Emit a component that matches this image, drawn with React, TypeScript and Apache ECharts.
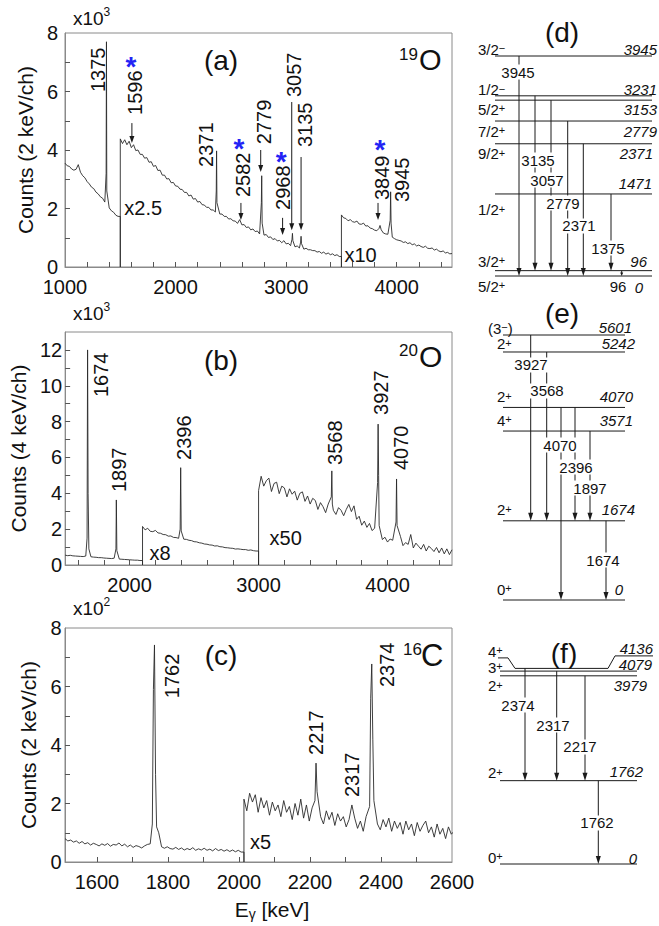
import React, { useEffect, useRef } from 'react';
import * as echarts from 'echarts';

const FONT = '"Liberation Sans", Arial, Helvetica, sans-serif';

// ---------------- (a) 19O spectrum, counts in units of 10^3 ----------------
const a1Counts = [3.55, 3.46, 3.44, 3.35, 3.31, 3.34, 3.50, 3.24, 3.12, 3.05, 2.92, 2.84, 2.73, 2.68, 2.56, 2.50, 2.40, 2.35, 2.22, 2.08, 2.02, 1.92, 1.87, 1.77, 1.73];
const a2Counts = [
  4.38, 4.22, 4.35, 4.18, 4.30, 4.08, 4.18, 3.98, 4.00, 3.85,
  3.85, 3.72, 3.74, 3.58, 3.60, 3.44, 3.47, 3.30, 3.31, 3.14,
  3.14, 3.01, 3.02, 2.88, 2.89, 2.77, 2.76, 2.66, 2.65, 2.55,
  2.55, 2.43, 2.46, 2.32, 2.34, 2.22, 2.24, 2.13, 2.12, 2.04,
  2.04, 1.95, 1.95, 1.88, 1.88, 1.81, 1.81, 1.73, 1.73, 1.64,
  1.65, 1.58, 1.57, 1.49, 1.62, 1.44, 1.45, 1.35, 1.37, 1.27,
  1.30, 1.21, 1.23, 1.13, 1.16, 1.09, 1.11, 1.01, 1.03, 0.94,
  0.97, 0.89, 0.91, 0.83, 0.90, 0.79, 0.81, 0.73, 0.78, 0.69,
  0.72, 0.65, 0.69, 0.61, 0.64, 0.59, 0.59, 0.56, 0.56, 0.51,
  0.53, 0.47, 0.51, 0.44, 0.48, 0.42, 0.45, 0.39, 0.42, 0.36,
];
const a3Counts = [
  1.78, 1.68, 1.66, 1.58, 1.62, 1.55, 1.53, 1.57, 1.47, 1.46,
  1.50, 1.40, 1.41, 1.33, 1.31, 1.26, 1.24, 1.32, 1.27, 1.16,
  1.13, 1.12, 1.22, 1.02, 0.97, 0.93, 0.91, 0.89, 0.84, 0.86,
  0.80, 0.83, 0.76, 0.79, 0.72, 0.75, 0.70, 0.67, 0.71, 0.64,
  0.63, 0.65, 0.58, 0.61, 0.55, 0.52, 0.55, 0.48, 0.50, 0.45, 0.46,
];
const segA = [
  { start: 1000, step: 20, counts: a1Counts },
  { start: 1500, step: 20, counts: a2Counts },
  { start: 3500, step: 20, counts: a3Counts },
];
const peaksA = [
  [1372, 3.2], [1375, 7.7], [1378, 2.6],
  [2368, 2.6], [2371, 3.97], [2374, 2.2],
  [2776, 2.2], [2779, 3.12], [2783, 1.5],
  [3053, 0.95], [3057, 1.15], [3061, 0.9],
  [3131, 0.85], [3135, 1.05], [3139, 0.8],
  [3849, 1.42],
  [3941, 1.6], [3945, 2.57], [3949, 1.5],
];

// ---------------- (b) 20O spectrum, units of 10^3 ----------------
const b1Counts = [0.55, 0.52, 0.54, 0.51, 0.50, 0.49, 0.48, 0.47, 0.50, 0.62, 0.46, 0.44, 0.43, 0.41, 0.41, 0.39, 0.38, 0.37, 0.36, 0.38, 0.40, 0.33, 0.32, 0.31, 0.30, 0.29, 0.28, 0.27, 0.27, 0.25];
const b2Counts = [
  2.15, 1.96, 2.05, 1.88, 1.86, 1.93, 1.79, 1.77, 1.70, 1.69,
  1.61, 1.62, 1.54, 1.53, 1.49, 1.50, 1.44, 1.43, 1.38, 1.36,
  1.30, 1.29, 1.24, 1.22, 1.17, 1.16, 1.12, 1.11, 1.06, 1.07,
  1.02, 1.01, 0.97, 0.96, 0.94, 0.93, 0.89, 0.90, 0.88, 0.86,
  0.86, 0.82, 0.84, 0.80, 0.78,
];
const b3Counts = [
  4.15, 4.95, 4.40, 4.70, 4.85, 4.10, 4.55, 4.62, 3.98, 4.40,
  4.30, 3.80, 4.25, 3.95, 4.12, 3.62, 4.00, 4.08, 3.55, 3.85,
  3.40, 3.72, 3.60, 3.10, 3.48, 3.25, 2.92, 3.40, 3.70, 3.05,
  2.82, 3.20, 3.05, 2.75, 3.10, 3.38, 2.98, 3.30, 2.55, 2.72,
  2.22, 2.45, 2.10, 2.32, 1.92, 2.05, 2.25, 1.58, 1.42, 1.55,
  1.28, 1.45, 1.38, 1.18, 1.35, 1.60, 1.08, 1.25, 1.15, 1.70,
  0.95, 1.22, 1.05, 0.88, 1.15, 0.78, 1.05, 0.92, 0.75, 0.98,
  0.68, 0.95, 0.62, 0.90, 0.58, 0.85,
];
const segB = [
  { start: 1500, step: 20, counts: b1Counts },
  { start: 2100, step: 20, counts: b2Counts },
  { start: 3000, step: 20, counts: b3Counts },
];
const peaksB = [
  [1670, 1.5], [1674, 12.0], [1678, 4.0], [1684, 0.9],
  [1894, 0.9], [1897, 3.63], [1901, 0.8],
  [2392, 2.0], [2396, 5.43], [2400, 1.9],
  [3564, 3.8], [3568, 5.25], [3572, 3.4],
  [3923, 4.6], [3927, 7.86], [3931, 5.0], [3935, 2.2],
  [4066, 2.4], [4070, 4.8], [4074, 2.2],
];

// ---------------- (c) 16C spectrum, units of 10^2 ----------------
const c1Counts = [
  0.80, 0.72, 0.75, 0.68, 0.72, 0.64, 0.70, 0.62, 0.66, 0.58,
  0.64, 0.60, 0.55, 0.62, 0.57, 0.63, 0.54, 0.60, 0.58, 0.65,
  0.55, 0.61, 0.52, 0.58, 0.50, 0.56, 0.53, 0.48, 0.55, 0.60,
  0.62, 0.80, 1.10, 1.00, 0.52, 0.47, 0.52, 0.46, 0.44, 0.50,
  0.43, 0.48, 0.41, 0.46, 0.42, 0.49, 0.40, 0.45, 0.41, 0.47,
  0.40, 0.44, 0.38, 0.46, 0.39, 0.43, 0.37, 0.42, 0.36, 0.41,
  0.35, 0.40, 0.34,
];
const c2Counts = [
  2.15, 1.75, 2.35, 2.05, 2.30, 1.70, 2.20, 1.85, 2.10, 1.60,
  2.05, 1.75, 1.95, 1.55, 2.10, 1.70, 1.90, 1.45, 2.00, 1.60,
  2.15, 1.50, 1.95, 1.40, 1.85, 2.00, 2.10, 1.55, 1.30, 1.75,
  1.45, 1.70, 1.25, 1.65, 1.40, 1.55, 1.20, 1.45, 1.95, 1.50,
  1.15, 1.40, 1.05, 1.55, 1.80, 1.90, 1.75, 1.30, 1.10, 1.45,
  1.20, 1.50, 1.05, 1.40, 1.15, 1.35, 0.95, 1.40, 1.10, 1.30,
  0.90, 1.35, 1.05, 1.25, 1.40, 1.00, 1.20, 0.85, 1.30, 0.95,
  1.15, 0.80, 1.20, 0.95, 1.05,
];
const segC = [
  { start: 1510, step: 8, counts: c1Counts },
  { start: 2014, step: 8, counts: c2Counts },
];
const peaksC = [
  [1756, 1.3], [1759, 5.9], [1762, 7.42], [1765, 3.0], [1768, 1.2],
  [2214, 2.1], [2217, 3.38], [2220, 2.4],
  [2368, 1.9], [2371, 5.6], [2374, 6.77], [2377, 4.2], [2380, 2.1],
];

// ---------------- axis ticks / labels ----------------
const aTicksX = [1200, 1400, 1600, 1800, 2000, 2200, 2400, 2600, 2800, 3000, 3200, 3400, 3600, 3800, 4000, 4200, 4400];
const aLabelsX = [1000, 2000, 3000, 4000];
const bTicksX = [1600, 1800, 2000, 2200, 2400, 2600, 2800, 3000, 3200, 3400, 3600, 3800, 4000, 4200, 4400];
const bLabelsX = [2000, 3000, 4000];
const cTicksX = [1600, 1700, 1800, 1900, 2000, 2100, 2200, 2300, 2400, 2500];
const cLabelsX = [1600, 1800, 2000, 2200, 2400, 2600];
const aTicksY = [1, 2, 3, 4, 5, 6, 7];
const aLabelsY = [0, 2, 4, 6, 8];
const bTicksY = [1, 2, 3, 4, 5, 6, 7, 8, 9, 10, 11, 12];
const bLabelsY = [0, 2, 4, 6, 8, 10, 12];
const cTicksY = [1, 2, 3, 4, 5, 6, 7];
const cLabelsY = [0, 2, 4, 6, 8];

// ---------------- peak annotations ----------------
// e: peak energy, yb: label start (counts), star: asterisk height, arrow: [top, tip] in counts
const annotA = [
  { e: 1375, text: '1375', dx: -8.5, yb: 5.98 },
  { e: 1596, text: '1596', dx: 4, yb: 5.2, star: 7.08, sdx: 0, arrow: [4.92, 4.24], adx: 1 },
  { e: 2371, text: '2371', dx: -11, yb: 3.42 },
  { e: 2582, text: '2582', dx: 3, yb: 2.39, star: 4.27, sdx: -1, arrow: [2.19, 1.61], adx: 1 },
  { e: 2779, text: '2779', dx: 2, yb: 4.2, arrow: [4.0, 3.25], adx: -1 },
  { e: 2968, text: '2968', dx: 0, yb: 1.95, star: 3.83, sdx: -1.5, arrow: [1.68, 1.09], adx: 0 },
  { e: 3057, text: '3057', dx: 2, yb: 5.81, arrow: [5.64, 1.26], adx: -0.7 },
  { e: 3135, text: '3135', dx: 4, yb: 4.1, arrow: [3.76, 1.26], adx: 0 },
  { e: 3849, text: '3849', dx: 2, yb: 2.29, star: 4.24, sdx: 0, arrow: [2.19, 1.61], adx: -2 },
  { e: 3945, text: '3945', dx: 11, yb: 2.22 },
];
const annotB = [
  { e: 1674, text: '1674', dx: 13, yb: 9.37 },
  { e: 1897, text: '1897', dx: 3, yb: 4.07 },
  { e: 2396, text: '2396', dx: 3, yb: 5.86 },
  { e: 3568, text: '3568', dx: 3, yb: 5.58 },
  { e: 3927, text: '3927', dx: 3, yb: 8.37 },
  { e: 4070, text: '4070', dx: 4, yb: 5.3 },
];
const annotC = [
  { e: 1762, text: '1762', dx: 18, yb: 5.6 },
  { e: 2217, text: '2217', dx: 0, yb: 3.66 },
  { e: 2317, text: '2317', dx: 0, yb: 2.22 },
  { e: 2374, text: '2374', dx: 15, yb: 5.98 },
];
const scaleMarks = [
  { grid: 0, e: 1500, y: 2.02, dx: 4, text: 'x2.5' },
  { grid: 0, e: 3500, y: 0.41, dx: 3, text: 'x10' },
  { grid: 1, e: 2100, y: 0.67, dx: 7, text: 'x8' },
  { grid: 1, e: 3000, y: 1.51, dx: 11, text: 'x50' },
  { grid: 2, e: 2014, y: 0.68, dx: 6, text: 'x5' },
];

// ---------------- level schemes ----------------
const levelsD = [
  { e: 3945, j: '3/2', p: '−' }, { e: 3231, j: '1/2', p: '−' }, { e: 3153, j: '5/2', p: '+' },
  { e: 2779, j: '7/2', p: '+' }, { e: 2371, j: '9/2', p: '+' }, { e: 1471, j: '1/2', p: '+' },
  { e: 96, j: '3/2', p: '+' }, { e: 0, j: '5/2', p: '+' },
];
const gammasD = [[3945, 0], [3231, 96], [3153, 96], [2779, 0], [2371, 0], [1471, 96], [96, 0]];
const levelsE = [
  { e: 5601, j: '(3', p: '−', close: ')' }, { e: 5242, j: '2', p: '+' }, { e: 4070, j: '2', p: '+' },
  { e: 3571, j: '4', p: '+' }, { e: 1674, j: '2', p: '+' }, { e: 0, j: '0', p: '+' },
];
const gammasE = [[5601, 1674], [5242, 1674], [4070, 0], [4070, 1674], [3571, 1674], [1674, 0]];
const levelsF = [
  { e: 4136, j: '4', p: '+' }, { e: 4079, j: '3', p: '+' }, { e: 3979, j: '2', p: '+' },
  { e: 1762, j: '2', p: '+' }, { e: 0, j: '0', p: '+' },
];
const gammasF = [[4136, 1762], [4079, 1762], [3979, 1762], [1762, 0]];

// layout of the schemes (pixels / label energies)
const layoutD = {
  lineX: [495, 652], spinX: 478,
  lv: [
    { sdy: -7, edy: -7, er: 657 }, { sdy: -6, edy: -6, er: 657 }, { sdy: 9, edy: 9, er: 657 },
    { sdy: 10, edy: 10, er: 657 }, { sdy: 10, edy: 10, er: 653 }, { sdy: 16, edy: -10, er: 652 },
    { sdy: -9.5, edy: -9, er: 647 }, { sdy: 10, edy: 11, er: 643 },
  ],
  gm: [
    { x: 519, lx: 518, le: 3658 }, { x: 535, lx: 538, le: 2080 }, { x: 551, lx: 547, le: 1721 },
    { x: 567.7, lx: 563, le: 1309 }, { x: 583.3, lx: 579, le: 897 }, { x: 611, lx: 608, le: 502 },
    { x: 621.7, lx: 618, le: -197 },
  ],
};
const layoutE = {
  lineX: [503, 625], spinX: 497,
  lv: [
    { sdy: -7, edy: -8, er: 632, sx: 488 }, { sdy: -8, edy: -8, er: 635 }, { sdy: -10.5, edy: -10.5, er: 633 },
    { sdy: -11, edy: -11, er: 633 }, { sdy: -11, edy: -11, er: 635 }, { sdy: -11, edy: -11, er: 623 },
  ],
  gm: [
    { x: 530.7, lx: 531, le: 4967 }, { x: 546.7, lx: 547, le: 4418 }, { x: 561, lx: 560, le: 3276 },
    { x: 575, lx: 576, le: 2811 }, { x: 590, lx: 590, le: 2367 }, { x: 606, lx: 603, le: 845 },
  ],
};
const layoutF = {
  lineX: [500, 637], spinX: 488,
  lv: [
    { sdy: -17, edy: -20, er: 653, kink: true }, { sdy: -4, edy: -7, er: 652 }, { sdy: 10, edy: 10, er: 647 },
    { sdy: -8, edy: -9, er: 643 }, { sdy: -7, edy: -6, er: 637 },
  ],
  gm: [
    { x: 525, lx: 518, le: 3362 }, { x: 556.7, lx: 553, le: 2939 }, { x: 585, lx: 580, le: 2474 },
    { x: 598.3, lx: 597, le: 867 },
  ],
};

function buildSpectrum(segs: { start: number; step: number; counts: number[] }[], peaks: number[][]) {
  const out: number[][] = [];
  segs.forEach((s, si) => {
    const end = si < segs.length - 1 ? segs[si + 1].start : Infinity;
    const segPeaks = peaks.filter((p) => p[0] >= s.start && p[0] < end);
    const thr = s.step * 0.4;
    const grid = s.counts.map((v, i) => [s.start + i * s.step, v]);
    const kept = grid.filter((g) => !segPeaks.some((p) => Math.abs(p[0] - g[0]) < thr));
    const merged = kept.concat(segPeaks).sort((a, b) => a[0] - b[0]);
    if (si > 0) {
      out.push([s.start, out[out.length - 1][1]]);
      out.push([s.start, 0]);
    }
    merged.forEach((p) => out.push(p));
  });
  return out;
}

const spectraGrids = [
  { left: 65, top: 33, width: 387, height: 234 },
  { left: 64, top: 332, width: 388, height: 233 },
  { left: 65, top: 628, width: 387, height: 234 },
];
const schemeGrids = [
  { left: 470, top: 56, width: 189, height: 220 },
  { left: 470, top: 335, width: 189, height: 265 },
  { left: 470, top: 668.4, width: 189, height: 195.6 },
];

function buildOption() {
  const xr = [[1000, 4500], [1500, 4500], [1510, 2600]];
  const ymax = [8, 13, 8];
  const tx = [aTicksX, bTicksX, cTicksX];
  const lx = [aLabelsX, bLabelsX, cLabelsX];
  const ty = [aTicksY, bTicksY, cTicksY];
  const ly = [aLabelsY, bLabelsY, cLabelsY];
  const names = ['Counts (2 keV/ch)', 'Counts (4 keV/ch)', 'Counts (2 keV/ch)'];
  const nameGaps = [28, 31, 25];
  const ymargins = [7, 3, 3.5];
  const data = [buildSpectrum(segA, peaksA), buildSpectrum(segB, peaksB), buildSpectrum(segC, peaksC)];
  const grid: any[] = [];
  const xAxis: any[] = [];
  const yAxis: any[] = [];
  const series: any[] = [];
  const plain = (v: number) => String(v);
  for (let i = 0; i < 3; i++) {
    grid.push({ ...spectraGrids[i], show: true, borderColor: '#8a8a8a', borderWidth: 1, containLabel: false });
    xAxis.push({
      gridIndex: i, type: 'value', min: xr[i][0], max: xr[i][1],
      axisLine: { show: true, onZero: false, lineStyle: { color: '#8a8a8a', width: 1 } },
      axisTick: { show: true, inside: true, length: 5, customValues: tx[i], lineStyle: { color: '#555' } },
      axisLabel: { show: true, customValues: lx[i], formatter: plain, fontSize: 20, fontFamily: FONT, color: '#111', margin: 10 },
      splitLine: { show: false },
    });
    yAxis.push({
      gridIndex: i, type: 'value', min: 0, max: ymax[i],
      name: names[i], nameLocation: 'middle', nameGap: nameGaps[i], nameRotate: 90,
      nameTextStyle: { fontSize: 21, fontFamily: FONT, color: '#111' },
      axisLine: { show: true, onZero: false, lineStyle: { color: '#8a8a8a', width: 1 } },
      axisTick: { show: true, inside: true, length: 5, customValues: ty[i], lineStyle: { color: '#555' } },
      axisLabel: { show: true, customValues: ly[i], formatter: plain, fontSize: 20, fontFamily: FONT, color: '#111', margin: ymargins[i] },
      splitLine: { show: false },
    });
    series.push({
      type: 'line', xAxisIndex: i, yAxisIndex: i, data: data[i], showSymbol: false, symbol: 'none',
      lineStyle: { width: 0.9, color: '#2a2a2a' }, silent: true, clip: true,
    });
  }
  const smax = [3945, 5601, 4136];
  for (let k = 0; k < 3; k++) {
    grid.push({ ...schemeGrids[k], show: false });
    xAxis.push({ gridIndex: 3 + k, type: 'value', min: 0, max: 1, show: false });
    yAxis.push({ gridIndex: 3 + k, type: 'value', min: 0, max: smax[k], show: false });
  }
  return { animation: false, backgroundColor: '#fff', grid, xAxis, yAxis, series };
}

function buildGraphics(chart: any) {
  const g: any[] = [];
  const px = (gi: number, x: number, y: number) => chart.convertToPixel({ gridIndex: gi }, [x, y]) as number[];
  const txt = (x: number, y: number, text: string, size: number, extra: any = {}) =>
    g.push({
      type: 'text', x, y, z: 20,
      style: { text, fontSize: size, fontFamily: FONT, fill: '#111', align: 'left', verticalAlign: 'middle', ...extra },
    });
  const seg = (x1: number, y1: number, x2: number, y2: number, w = 1) =>
    g.push({ type: 'line', z: 10, shape: { x1, y1, x2, y2 }, style: { stroke: '#1a1a1a', lineWidth: w } });
  const head = (x: number, tip: number, w: number, h: number) =>
    g.push({ type: 'polygon', z: 11, shape: { points: [[x - w / 2, tip - h], [x + w / 2, tip - h], [x, tip]] }, style: { fill: '#1a1a1a' } });

  // spectra annotations
  const annots = [annotA, annotB, annotC];
  annots.forEach((list, gi) => {
    list.forEach((a: any) => {
      const [x0, y0] = px(gi, a.e, a.yb);
      g.push({
        type: 'text', x: x0 + a.dx, y: y0, rotation: Math.PI / 2, z: 20,
        style: { text: a.text, fontSize: 20, fontFamily: FONT, fill: '#111', align: 'left', verticalAlign: 'middle' },
      });
      if (a.star !== undefined) {
        const [sx, sy] = px(gi, a.e, a.star);
        g.push({
          type: 'text', x: sx + a.sdx, y: sy + 6.5, z: 20,
          style: { text: '*', fontSize: 28, fontWeight: 'bold', fontFamily: FONT, fill: '#2323f5', align: 'center', verticalAlign: 'middle' },
        });
      }
      if (a.arrow) {
        const [ax, ay1] = px(gi, a.e, a.arrow[0]);
        const [, ay2] = px(gi, a.e, a.arrow[1]);
        const x = ax + a.adx;
        seg(x, ay1, x, ay2 - 5);
        head(x, ay2, 5, 7);
      }
    });
  });
  scaleMarks.forEach((m) => {
    const [x, y] = px(m.grid, m.e, m.y);
    txt(x + m.dx, y, m.text, 20);
  });

  // panel headers
  const heads = [
    { y: 18, base: 'x10', sup: '3' },
    { y: 313, base: 'x10', sup: '3' },
    { y: 608, base: 'x10', sup: '2' },
  ];
  heads.forEach((h) => {
    txt(73, h.y, h.base, 19);
    txt(103.5, h.y - 6, h.sup, 12);
  });
  txt(221, 60, '(a)', 28, { align: 'center' });
  txt(221, 360, '(b)', 28, { align: 'center' });
  txt(221, 655, '(c)', 28, { align: 'center' });
  txt(418, 54, '19', 17, { align: 'right' });
  txt(419, 60, 'O', 29);
  txt(418, 350, '20', 17, { align: 'right' });
  txt(419, 356, 'O', 30);
  txt(422, 649, '16', 17, { align: 'right' });
  txt(421, 655, 'C', 31);
  g.push({
    type: 'text', x: 272, y: 909, z: 20,
    style: {
      text: '{n|E}{s|γ}{n| [keV]}', align: 'center', verticalAlign: 'middle',
      rich: {
        n: { fontSize: 21, fontFamily: FONT, fill: '#111', lineHeight: 24 },
        s: { fontSize: 14, fontFamily: FONT, fill: '#111', lineHeight: 12, verticalAlign: 'bottom' },
      },
    },
  });

  // level schemes
  txt(562, 32, '(d)', 28, { align: 'center' });
  txt(562, 313, '(e)', 28, { align: 'center' });
  txt(564, 653, '(f)', 28, { align: 'center' });

  const schemes = [
    { gi: 3, levels: levelsD, gammas: gammasD, L: layoutD },
    { gi: 4, levels: levelsE, gammas: gammasE, L: layoutE },
    { gi: 5, levels: levelsF, gammas: gammasF, L: layoutF },
  ];
  schemes.forEach(({ gi, levels, gammas, L }) => {
    const yOf = (e: number) => px(gi, 0, e)[1];
    levels.forEach((lv: any, i: number) => {
      const lay: any = L.lv[i];
      const y = yOf(lv.e);
      if (lay.kink) {
        g.push({
          type: 'polyline', z: 10,
          shape: { points: [[498, y - 10.5], [508, y - 10.5], [515, y], [608, y], [615, y - 12.5], [653, y - 12.5]] },
          style: { stroke: '#1a1a1a', lineWidth: 1, fill: 'none' },
        });
      } else {
        seg(L.lineX[0], y, L.lineX[1], y);
      }
      const spinText = `{m|${lv.j}}{u|${lv.p}}` + (lv.close ? `{m|${lv.close}}` : '');
      g.push({
        type: 'text', x: lay.sx ?? L.spinX, y: y + lay.sdy, z: 20,
        style: {
          text: spinText, align: 'left', verticalAlign: 'middle',
          rich: {
            m: { fontSize: 15, fontFamily: FONT, fill: '#111', lineHeight: 13 },
            u: { fontSize: 11, fontFamily: FONT, fill: '#111', lineHeight: 6, verticalAlign: 'top' },
          },
        },
      });
      txt(lay.er, y + lay.edy, String(lv.e), 15, { align: 'right', fontStyle: 'italic' });
    });
    gammas.forEach(([from, to]: number[], i: number) => {
      const gl: any = L.gm[i];
      const y1 = yOf(from);
      const y2 = yOf(to);
      const small = y2 - y1 < 10;
      const h = small ? 3.5 : 8;
      const w = small ? 3 : 5;
      seg(gl.x, y1, gl.x, y2 - h + 1);
      head(gl.x, y2, w, h);
      txt(gl.lx, yOf(gl.le), String(from - to), 15, { align: 'center', backgroundColor: '#fff', padding: [0, 1] });
    });
  });
  return g;
}

export default function App() {
  const ref = useRef<HTMLDivElement>(null);
  useEffect(() => {
    const el = ref.current as HTMLDivElement;
    const chart = echarts.init(el, null, { renderer: 'svg' });
    chart.setOption(buildOption() as any);
    chart.setOption({ graphic: buildGraphics(chart) } as any);
    return () => chart.dispose();
  }, []);
  return (
    <div
      ref={ref}
      style={{ position: 'absolute', left: 0, top: 0, width: 659, height: 926, background: '#fff' }}
    />
  );
}
